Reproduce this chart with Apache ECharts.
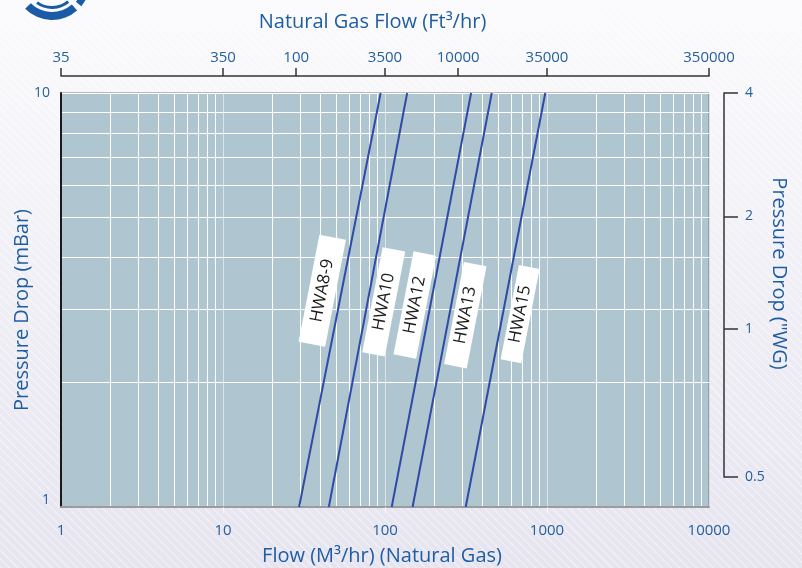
<!DOCTYPE html>
<html>
<head>
<meta charset="utf-8">
<script src="https://cdn.jsdelivr.net/npm/echarts@6/dist/echarts.min.js"></script>
<style>
html, body { margin: 0; padding: 0; }
#chart {
  width: 802px; height: 568px;
  background:
    repeating-linear-gradient(45deg, rgba(255,255,255,0.35) 0px, rgba(255,255,255,0.35) 1.5px, rgba(255,255,255,0) 1.5px, rgba(255,255,255,0) 6px),
    linear-gradient(180deg, #fbfbfd 0%, #f1f0f6 45%, #e6e4ef 100%);
}
</style>
</head>
<body>
<div id="chart"></div>
<script>
// ---- data ----
const seriesNames    = ['HWA8-9', 'HWA10', 'HWA12', 'HWA13', 'HWA15'];
const flowAtLowDrop  = [29.5, 45, 110, 148, 315];   // m3/hr where each line meets 1 mbar
const flowAtHighDrop = [94, 137, 340, 456, 976];    // m3/hr where each line meets 10 mbar
const dropEnds       = [1, 10];                     // mbar

const labelFlow = [41.0, 98.2, 152.8, 313.3, 682.3]; // label anchor, m3/hr
const labelDrop = [3.33, 3.13, 3.075, 2.906, 2.922]; // label anchor, mbar

const bottomTicks = [1, 10, 100, 1000, 10000];
const leftTicks   = [1, 10];
const topTickLabels = ['35', '350', '100', '3500', '10000', '35000', '350000'];
const topTickAt     = [1, 10, 28.3, 100, 283, 1000, 10000];   // positions on the m3/hr scale
const rightTickLabels = ['4', '2', '1', '0.5'];
const rightTickAt     = [10, 5.03, 2.69, 1.18];               // positions on the mbar scale

// ---- styles ----
const FONT = '"Open Sans", "Noto Sans", sans-serif';
const BLUE = '#1f5da3';
const TICKBLUE = '#25609f';
const labelBoxSize = [[109, 27], [107, 23], [105, 23], [104, 23], [96, 21]];

// log-grid positions (1..9 per decade)
const xGrid = [];
for (let d = 1; d < 10000; d *= 10) for (let m = 1; m < 10; m++) xGrid.push(m * d);
xGrid.push(10000);
const yGrid = [1, 2, 3, 4, 5, 6, 7, 8, 9, 10];

function pick(list, labels, v) {
  let best = 0, bd = Infinity;
  list.forEach((p, i) => { const d = Math.abs(Math.log(p) - Math.log(v)); if (d < bd) { bd = d; best = i; } });
  return labels[best];
}

const chart = echarts.init(document.getElementById('chart'), null, { renderer: 'canvas' });

const series = seriesNames.map((name, i) => ({
  name: name,
  type: 'line',
  xAxisIndex: 0, yAxisIndex: 0,
  data: [[flowAtLowDrop[i], dropEnds[0]], [flowAtHighDrop[i], dropEnds[1]]],
  symbol: 'none',
  silent: true,
  lineStyle: { color: '#2f4ba6', width: 2 },
  markPoint: {
    symbol: 'rect',
    symbolSize: labelBoxSize[i],
    symbolRotate: 79,
    silent: true,
    itemStyle: { color: '#ffffff' },
    label: {
      show: true, position: 'inside', rotate: 79,
      formatter: name, color: '#1b1b1b', fontSize: 17, fontFamily: FONT
    },
    data: [{ coord: [labelFlow[i], labelDrop[i]] }]
  }
}));

const titleStyle = (t) => ({
  text: t, font: '20px ' + FONT, fill: BLUE,
  textAlign: 'center', textVerticalAlign: 'middle', align: 'center', verticalAlign: 'middle'
});

chart.setOption({
  animation: false,
  grid: [
    { left: 61, right: 93, top: 93, bottom: 61, show: true, backgroundColor: '#afc6d1', borderColor: '#7d7d7d', borderWidth: 1 },
    { left: 61, right: 78, top: 93, bottom: 91, show: false }
  ],
  xAxis: [
    { // main flow axis
      type: 'log', logBase: 10, min: 1, max: 10000, gridIndex: 0, position: 'bottom',
      axisLine: { show: true, onZero: false, lineStyle: { color: '#9b9b9b', width: 2 } },
      axisTick: { show: false, customValues: xGrid },
      axisLabel: { customValues: bottomTicks, formatter: v => String(Math.round(v)), color: TICKBLUE, fontSize: 15, fontFamily: FONT, margin: 16 },
      splitLine: { show: true, lineStyle: { color: ['rgba(255,255,255,0.55)', '#ffffff', '#ffffff', '#ffffff', '#ffffff', '#ffffff', '#ffffff', '#ffffff', '#ffffff'], width: 1 } }
    },
    { // top ft3/hr axis
      type: 'log', logBase: 10, min: 1, max: 10000, gridIndex: 0, position: 'top', offset: 17,
      axisLine: { show: true, onZero: false, lineStyle: { color: '#333333', width: 1.5 } },
      axisTick: { show: true, inside: false, length: 8, customValues: topTickAt, lineStyle: { color: '#333333', width: 1.5 } },
      axisLabel: { customValues: topTickAt, formatter: v => pick(topTickAt, topTickLabels, v), color: TICKBLUE, fontSize: 15, fontFamily: FONT, margin: 11 },
      splitLine: { show: false }
    },
    { // light decade ticks below the plot
      type: 'log', logBase: 10, min: 1, max: 10000, gridIndex: 0, position: 'bottom',
      axisLine: { show: false, onZero: false },
      axisTick: { show: true, length: 6, customValues: [10, 100, 1000], lineStyle: { color: 'rgba(255,255,255,0.75)', width: 1 } },
      axisLabel: { show: false },
      splitLine: { show: false }
    },
    { type: 'value', gridIndex: 1, show: false, min: 0, max: 1 }
  ],
  yAxis: [
    { // main mbar axis
      type: 'log', logBase: 10, min: 1, max: 10, gridIndex: 0, position: 'left',
      axisLine: { show: true, onZero: false, lineStyle: { color: '#1a1a1a', width: 2 } },
      axisTick: { show: false, customValues: yGrid },
      axisLabel: { customValues: leftTicks, formatter: v => String(Math.round(v)), color: TICKBLUE, fontSize: 14, fontFamily: FONT, margin: 11, verticalAlignMinLabel: 'bottom' },
      splitLine: { show: true, lineStyle: { color: '#ffffff', width: 1 } }
    },
    { // right "WG axis
      type: 'log', logBase: 10, min: 1.18, max: 10, gridIndex: 1, position: 'right',
      axisLine: { show: true, onZero: false, lineStyle: { color: '#333333', width: 1.5 } },
      axisTick: { show: true, inside: false, length: 14, customValues: rightTickAt, lineStyle: { color: '#333333', width: 1.5 } },
      axisLabel: { customValues: rightTickAt, formatter: v => pick(rightTickAt, rightTickLabels, v), color: TICKBLUE, fontSize: 14, fontFamily: FONT, margin: 21 },
      splitLine: { show: false }
    }
  ],
  series: series,
  graphic: [
    { type: 'sector', shape: { cx: 52, cy: -18, r0: 30, r: 38, startAngle: Math.PI * 0.27, endAngle: Math.PI * 0.75 }, style: { fill: '#1a5aa6' } },
    { type: 'sector', shape: { cx: 52, cy: -18, r0: 31, r: 38, startAngle: Math.PI * 0.12, endAngle: Math.PI * 0.22 }, style: { fill: '#1a5aa6' } },
    { type: 'sector', shape: { cx: 52, cy: -18, r0: 24, r: 27, startAngle: Math.PI * 0.28, endAngle: Math.PI * 0.70 }, style: { fill: '#1a5aa6' } },
    { type: 'text', x: 372.5, y: 22, style: titleStyle('Natural Gas Flow (Ft³/hr)') },
    { type: 'text', x: 382, y: 556, style: titleStyle('Flow (M³/hr) (Natural Gas)') },
    { type: 'text', x: 22, y: 310, rotation: Math.PI / 2, style: titleStyle('Pressure Drop (mBar)') },
    { type: 'text', x: 779, y: 273.5, rotation: -Math.PI / 2, style: titleStyle('Pressure Drop ("WG)') }
  ]
});
</script>
</body>
</html>
